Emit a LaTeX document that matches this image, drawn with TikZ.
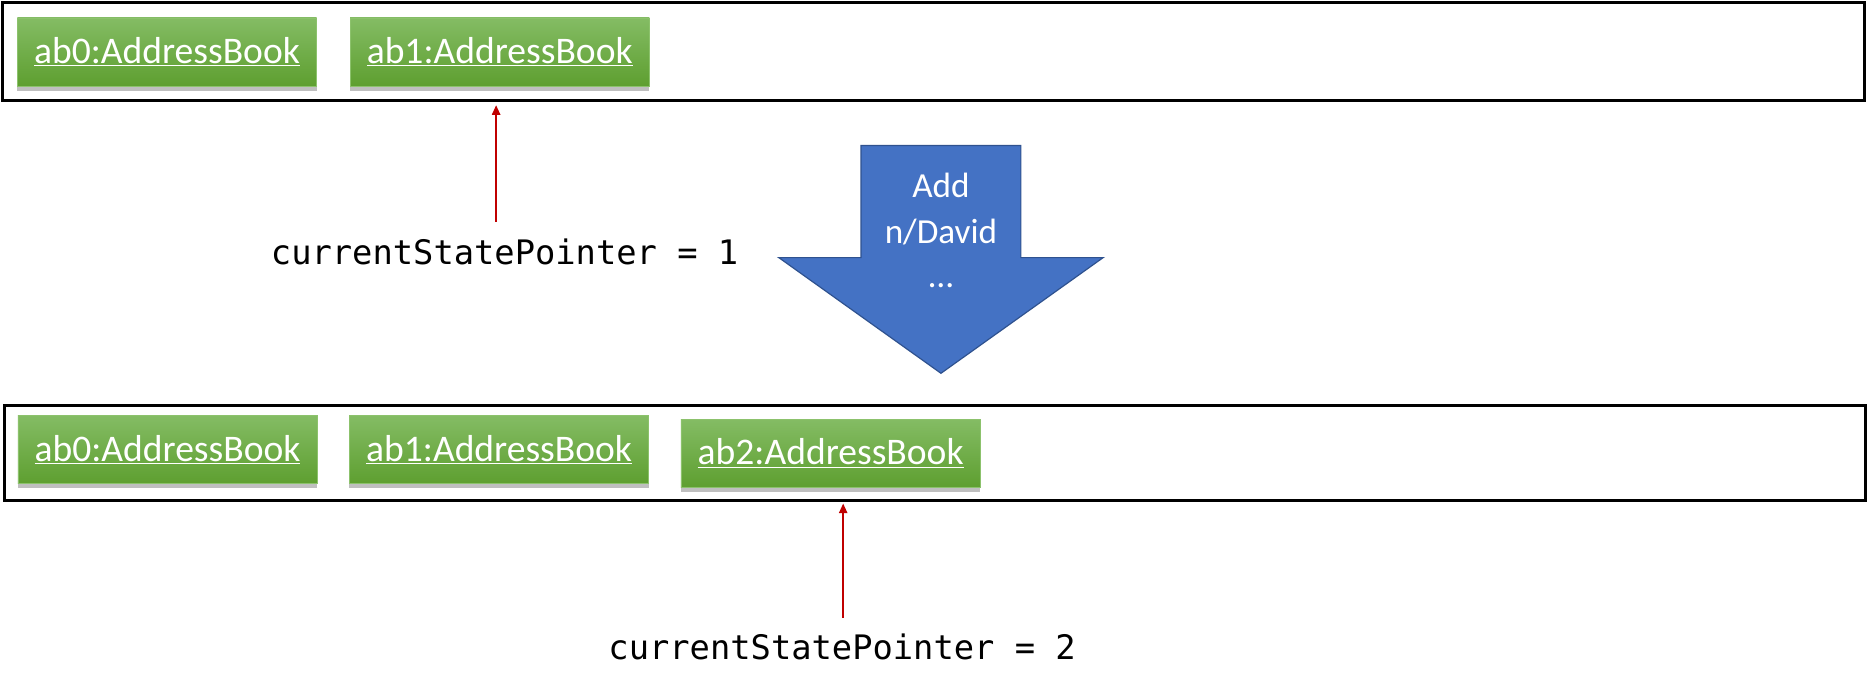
\documentclass[tikz,border=0pt]{standalone}
\usepackage{fontspec}
\setmainfont{Carlito}
\newfontfamily\codefont{DejaVu Sans Mono}
\usetikzlibrary{shadows,arrows.meta}
\definecolor{gtop}{HTML}{84BC64}
\definecolor{gbot}{HTML}{5E9F30}
\definecolor{gline}{HTML}{8CC26C}
\definecolor{ablue}{HTML}{4472C4}
\definecolor{ablueb}{HTML}{2F528F}
\definecolor{pred}{HTML}{C00000}
\begin{document}
\begin{tikzpicture}[x=1pt,y=-1pt,
  frame/.style={draw=black, line width=2.5pt, inner sep=0pt},
  abox/.style={minimum width=251pt, minimum height=57pt, inner sep=0pt,
    top color=gtop, bottom color=gbot, draw=gline, line width=0.6pt,
    drop shadow={shadow xshift=0pt, shadow yshift=-4pt, opacity=0.5},
    text=white, font=\fontsize{31.5}{37}\selectfont},
  ptr/.style={draw=pred, line width=1.2pt, -{Triangle[length=8pt,width=7pt]}},
  code/.style={font=\codefont\fontsize{28.3}{34}\selectfont, inner sep=0pt},
  bigarrow/.style={fill=ablue, draw=ablueb, line width=1pt, line join=miter},
  arrowtext/.style={text=white, inner sep=0pt, font=\fontsize{29.5}{38}\selectfont},
]
\useasboundingbox (0,0) rectangle (1568,579.4);

% top state
\node[frame, minimum width=1562pt, minimum height=82pt] (topframe) at (782.75,43) {};
\node[abox] (t0) at (140,43.5) {\underline{ab0:AddressBook}};
\node[abox] (t1) at (419,43.5) {\underline{ab1:AddressBook}};

\node[code, anchor=base west] (ptr1) at (227,222) {currentStatePointer = 1};
\coordinate (p1) at (416,186);
\draw[ptr, shorten >=3pt] (p1) -- (p1 |- topframe.south);

% big arrow
\path[bigarrow] (722,122) -- (856,122) -- (856,216) -- (925,216) -- (789,313)
  -- (653,216) -- (722,216) -- cycle;
\node[arrowtext, anchor=base] (add1) at (789,166) {Add};
\node[arrowtext, anchor=base] (add2) at (789,204) {n/David};
\node[arrowtext, anchor=base] (add3) at (789,241) {…};

% bottom state
\node[frame, minimum width=1560pt, minimum height=80pt] (botframe) at (784,380) {};
\node[abox] (b0) at (140.5,377) {\underline{ab0:AddressBook}};
\node[abox] (b1) at (418.5,377) {\underline{ab1:AddressBook}};
\node[abox] (b2) at (696.5,380) {\underline{ab2:AddressBook}};

\node[code, anchor=base west] (ptr2) at (510,553) {currentStatePointer = 2};
\coordinate (p2) at (707,518);
\draw[ptr, shorten >=1pt] (p2) -- (p2 |- botframe.south);
\end{tikzpicture}
\end{document}
